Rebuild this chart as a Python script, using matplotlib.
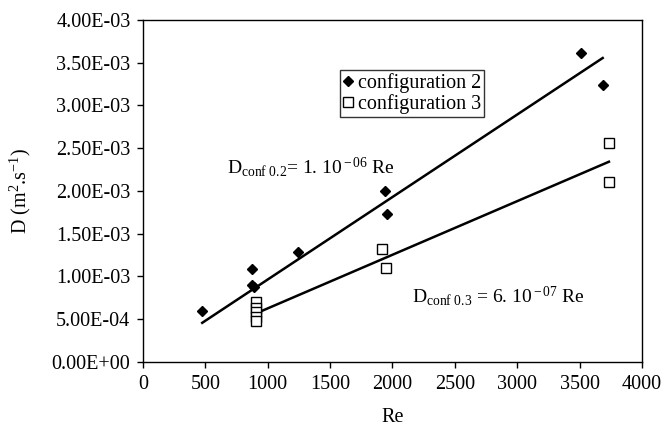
import numpy as np
import matplotlib.pyplot as plt

plt.rcParams['font.family'] = 'Liberation Serif'
plt.rcParams['mathtext.fontset'] = 'custom'
plt.rcParams['mathtext.rm'] = 'Liberation Serif'
plt.rcParams['mathtext.it'] = 'Liberation Serif:italic'

# configuration 2 (filled diamonds)
re_conf2 = [475, 870, 890, 874, 1245, 1942, 1956, 3511, 3685]
d_conf2 = [0.596e-3, 0.90e-3, 0.88e-3, 1.084e-3, 1.283e-3, 2.00e-3, 1.727e-3, 3.61e-3, 3.24e-3]

# configuration 3 (open squares)
re_conf3 = [906, 906, 906, 906, 906, 1913, 1945, 3735, 3735]
d_conf3 = [0.70e-3, 0.63e-3, 0.58e-3, 0.53e-3, 0.48e-3, 1.318e-3, 1.10e-3, 2.558e-3, 2.109e-3]

x_ticks = [0, 500, 1000, 1500, 2000, 2500, 3000, 3500, 4000]
y_ticks = [0, 0.5e-3, 1e-3, 1.5e-3, 2e-3, 2.5e-3, 3e-3, 3.5e-3, 4e-3]

fig = plt.figure(figsize=(6.65, 4.28), dpi=100)
ax = fig.add_axes([0.215, 0.1542, 0.7504, 0.7991])

# linear trend lines through the origin
x2 = np.array(re_conf2)
y2 = np.array(d_conf2)
k2 = np.sum(x2 * y2) / np.sum(x2 * x2)
x3 = np.array(re_conf3)
y3 = np.array(d_conf3)
k3 = np.sum(x3 * y3) / np.sum(x3 * x3)

ax.plot([x2.min(), x2.max()], [k2 * x2.min(), k2 * x2.max()], color='black', lw=1.8)
ax.plot([x3.min(), x3.max()], [k3 * x3.min(), k3 * x3.max()], color='black', lw=1.8)

ax.plot(re_conf2, d_conf2, 'D', color='black', ms=5.5, ls='none', label='configuration 2')
ax.plot(re_conf3, d_conf3, 's', mfc='white', mec='black', mew=1.0, ms=7, ls='none', label='configuration 3')

ax.set_xlim(0, 4000)
ax.set_ylim(0, 4e-3)
ax.set_xticks(x_ticks)
ax.set_yticks(y_ticks)
ax.set_yticklabels(['{:.2E}'.format(v) for v in y_ticks])
ax.tick_params(direction='out', length=4, labelsize=14.5, width=1, pad=5)
for s in ax.spines.values():
    s.set_linewidth(1.0)

ax.set_xlabel('Re', fontsize=14.5)
ax.xaxis.set_label_coords(0.5, -(408 - 362) / 342)
ax.set_ylabel(r'D (m$^2$.s$^{-1}$)', fontsize=14.5)
ax.yaxis.set_label_coords(-(143 - 33) / 499, 0.5)

# fit equations
ax.text(673, 2.21e-3, r'D$_{\rm conf\ 0.2}$= 1. 10$^{\rm -06}$ Re', fontsize=14)
ax.text(2156, 0.70e-3, r'D$_{\rm conf\ 0.3}$ = 6. 10$^{\rm -07}$ Re', fontsize=14)

leg = ax.legend(loc='upper left', bbox_to_anchor=(340 / 665, (428 - 70) / 428),
                bbox_transform=fig.transFigure, fontsize=14.5, frameon=True,
                fancybox=False, edgecolor='black', handlelength=0.5,
                handletextpad=0.25, borderpad=0.15, labelspacing=0.05,
                borderaxespad=0)
leg.get_frame().set_linewidth(1.0)

plt.savefig('out.png', dpi=100)
